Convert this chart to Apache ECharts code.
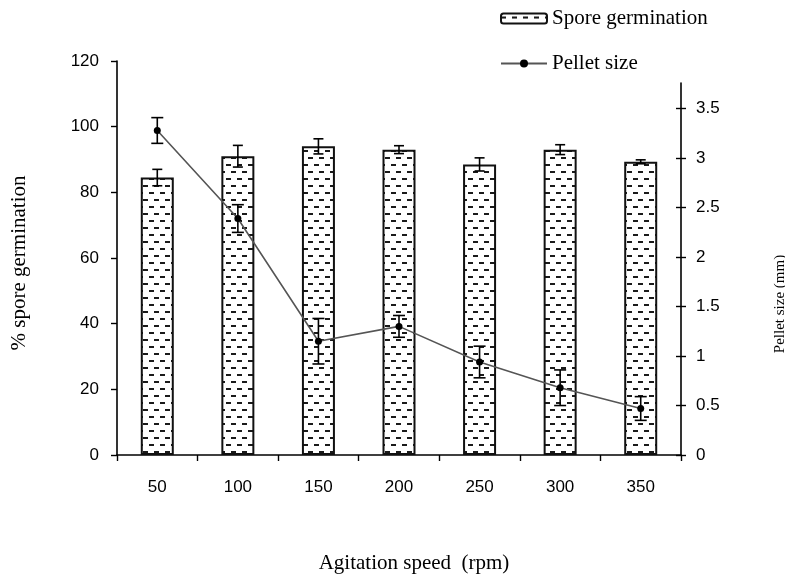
<!DOCTYPE html>
<html>
<head>
<meta charset="utf-8">
<script src="https://cdn.jsdelivr.net/npm/echarts@6/dist/echarts.min.js"></script>
<style>
  html, body { margin: 0; padding: 0; background: #fff; }
  #chart { width: 785px; height: 577px; }
</style>
</head>
<body>
<div id="chart"></div>
<script>
// Agitation speed categories (rpm)
const speeds = ['50', '100', '150', '200', '250', '300', '350'];
// % spore germination and its error
const germination = [84.5, 91, 94, 93, 88.5, 93, 89.3];
const germinationErr = [2.5, 3.3, 2.3, 1.2, 2.0, 1.5, 0.6];
// Pellet size (mm) and its error
const pelletSize = [3.28, 2.39, 1.15, 1.30, 0.94, 0.68, 0.47];
const pelletErr = [0.13, 0.14, 0.23, 0.11, 0.16, 0.18, 0.12];
// Tick labels
const leftTicks = [0, 20, 40, 60, 80, 100, 120];
const rightTicks = [0, 0.5, 1, 1.5, 2, 2.5, 3, 3.5];

// Dashed fill used inside the bars: staggered short horizontal dashes
function dashPattern() {
  const c = document.createElement('canvas');
  c.width = 11; c.height = 14;
  const g = c.getContext('2d');
  g.fillStyle = '#fff';
  g.fillRect(0, 0, 11, 14);
  g.fillStyle = '#1a1a1a';
  g.fillRect(0, 3, 5, 2);
  g.fillRect(6, 10, 5, 2);
  return c;
}

const serif = '"Liberation Serif", "DejaVu Serif", serif';
const sans = '"Liberation Sans", Arial, sans-serif';

// Vertical error bar with caps
function errorBar(capHalf) {
  return function (params, api) {
    const i = api.value(0), v = api.value(1), e = api.value(2);
    const hi = api.coord([i, v + e]);
    const lo = api.coord([i, v - e]);
    const st = { stroke: '#000', lineWidth: 1.6 };
    return {
      type: 'group',
      children: [
        { type: 'line', shape: { x1: hi[0], y1: hi[1], x2: lo[0], y2: lo[1] }, style: st },
        { type: 'line', shape: { x1: hi[0] - capHalf, y1: hi[1], x2: hi[0] + capHalf, y2: hi[1] }, style: st },
        { type: 'line', shape: { x1: lo[0] - capHalf, y1: lo[1], x2: lo[0] + capHalf, y2: lo[1] }, style: st }
      ]
    };
  };
}

const chart = echarts.init(document.getElementById('chart'), null, { renderer: 'canvas' });

chart.setOption({
  animation: false,
  backgroundColor: '#fff',
  legend: {
    orient: 'vertical',
    left: 500,
    top: 8,
    padding: 0,
    itemWidth: 46,
    itemHeight: 10,
    itemGap: 24,
    textStyle: { fontFamily: serif, fontSize: 21, color: '#000' },
    data: ['Spore germination', 'Pellet size']
  },
  grid: [
    { left: 117, right: 104, top: 61, bottom: 122, containLabel: false, outerBoundsMode: 'none' },
    { left: 117, right: 104, top: 83, bottom: 122, containLabel: false, outerBoundsMode: 'none' }
  ],
  xAxis: [
    {
      type: 'category',
      gridIndex: 0,
      data: speeds,
      axisLine: { lineStyle: { color: '#000', width: 1.6 } },
      axisTick: { show: true, length: 6, lineStyle: { color: '#000', width: 1.4 } },
      axisLabel: { color: '#000', fontFamily: sans, fontSize: 17, margin: 24 },
      name: 'Agitation speed  (rpm)',
      nameLocation: 'middle',
      nameGap: 98,
      nameTextStyle: { fontFamily: serif, fontSize: 21, color: '#000', padding: [0, 0, 0, 30] }
    },
    {
      type: 'category',
      gridIndex: 1,
      data: speeds,
      show: false
    }
  ],
  yAxis: [
    {
      type: 'value',
      gridIndex: 0,
      min: 0,
      max: 120,
      interval: 20,
      splitLine: { show: false },
      axisLine: { show: true, lineStyle: { color: '#000', width: 1.6 } },
      axisTick: { show: true, length: 6, lineStyle: { color: '#000', width: 1.4 },
        customValues: leftTicks },
      axisLabel: { color: '#000', fontFamily: sans, fontSize: 17, margin: 18,
        customValues: leftTicks },
      name: '% spore germination',
      nameLocation: 'middle',
      nameRotate: 90,
      nameGap: 87,
      nameTextStyle: { fontFamily: serif, fontSize: 21, color: '#000', padding: [0, 10, 0, 0] }
    },
    {
      type: 'value',
      gridIndex: 1,
      position: 'right',
      min: 0,
      max: 3.76,
      splitLine: { show: false },
      axisLine: { show: true, lineStyle: { color: '#000', width: 1.6 } },
      axisTick: { show: true, length: 5, lineStyle: { color: '#000', width: 1.4 },
        customValues: rightTicks },
      axisLabel: { color: '#000', fontFamily: sans, fontSize: 17, margin: 15,
        customValues: rightTicks },
      name: 'Pellet size (mm)',
      nameLocation: 'middle',
      nameRotate: 90,
      nameGap: 92,
      nameTextStyle: { fontFamily: serif, fontSize: 15, color: '#000', padding: [0, 70, 0, 0] }
    },
    {
      // inner half of the crossing ticks on the right axis
      type: 'value',
      gridIndex: 1,
      position: 'right',
      min: 0,
      max: 3.76,
      splitLine: { show: false },
      axisLine: { show: false },
      axisTick: { show: true, inside: true, length: 5, lineStyle: { color: '#000', width: 1.4 },
        customValues: rightTicks },
      axisLabel: { show: false }
    }
  ],
  series: [
    {
      name: 'Spore germination',
      type: 'bar',
      xAxisIndex: 0,
      yAxisIndex: 0,
      data: germination,
      barWidth: 33,
      itemStyle: {
        color: { image: dashPattern(), repeat: 'repeat' },
        borderColor: '#111',
        borderWidth: 2
      },
      z: 2
    },
    {
      name: 'germErr',
      type: 'custom',
      xAxisIndex: 0,
      yAxisIndex: 0,
      renderItem: errorBar(5),
      data: germination.map((v, i) => [i, v, germinationErr[i]]),
      z: 5,
      silent: true
    },
    {
      name: 'Pellet size',
      type: 'line',
      xAxisIndex: 1,
      yAxisIndex: 1,
      data: pelletSize,
      symbol: 'circle',
      symbolSize: 7,
      lineStyle: { color: '#555', width: 1.6 },
      itemStyle: { color: '#000' },
      z: 6
    },
    {
      name: 'pelletErr',
      type: 'custom',
      xAxisIndex: 1,
      yAxisIndex: 1,
      renderItem: errorBar(6),
      data: pelletSize.map((v, i) => [i, v, pelletErr[i]]),
      z: 7,
      silent: true
    }
  ]
});
</script>
</body>
</html>
